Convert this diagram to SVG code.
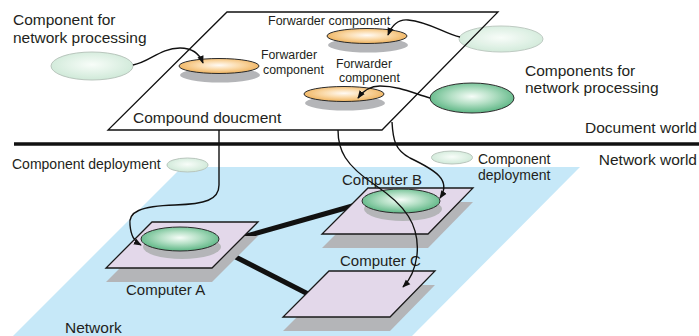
<svg xmlns="http://www.w3.org/2000/svg" width="699" height="336" viewBox="0 0 699 336">
  <style>
    text { font-family: "Liberation Sans", Arial, sans-serif; fill: #231f20; }
    .lbl { font-size: 15.5px; }
    .sm { font-size: 12.3px; }
    .mid { font-size: 14px; }
    .pc { fill: #e3d8ea; stroke: #1a1a1a; stroke-width: 1.3; stroke-linejoin: miter; }
    .shadow { fill: #b4b5b8; }
    .link { stroke: #111; stroke-width: 5; fill: none; }
    .conn { stroke: #111; stroke-width: 1.4; fill: none; marker-end: url(#arrow); }
    .orange { fill: url(#gOrange); stroke: #2a2a2a; stroke-width: 1; }
    .green { fill: url(#gGreen); stroke: #2a2a2a; stroke-width: 1; }
    .pale { fill: url(#gPale); stroke: #b9c6bd; stroke-width: 1; }
  </style>
  <defs>
    <radialGradient id="gOrange" cx="0.5" cy="0.45" r="0.55">
      <stop offset="0" stop-color="#fffaf4"/>
      <stop offset="0.45" stop-color="#fbdcae"/>
      <stop offset="1" stop-color="#efb25c"/>
    </radialGradient>
    <radialGradient id="gGreen" cx="0.5" cy="0.45" r="0.55">
      <stop offset="0" stop-color="#f6fdf8"/>
      <stop offset="0.45" stop-color="#b5e0c6"/>
      <stop offset="1" stop-color="#5cb684"/>
    </radialGradient>
    <radialGradient id="gPale" cx="0.5" cy="0.45" r="0.55">
      <stop offset="0" stop-color="#f8fdf9"/>
      <stop offset="1" stop-color="#cfe9d8"/>
    </radialGradient>
    <marker id="arrow" viewBox="0 0 10 10" refX="9" refY="5" markerWidth="8" markerHeight="8" markerUnits="userSpaceOnUse" orient="auto">
      <path d="M0,1 L10,5 L0,9 Z" fill="#111"/>
    </marker>
  </defs>

  <!-- network plane -->
  <polygon points="182,167 580,167 412,336 13,336" fill="#c6e8f8"/>

  <!-- world divider -->
  <line x1="14" y1="144" x2="699" y2="144" stroke="#111" stroke-width="3.5"/>

  <!-- network links -->
  <g id="links">
    <line class="link" x1="236" y1="239" x2="356" y2="205"/>
    <line class="link" x1="222" y1="250" x2="312" y2="296"/>
  </g>

  <g id="computer-a">
    <polygon class="shadow" points="152,236 258,236 212,282 106,282"/>
    <polygon class="pc" points="152,222 258,222 212,268 106,268"/>
    <ellipse class="shadow" cx="182" cy="247" rx="39" ry="12"/>
    <ellipse class="green" cx="180" cy="239" rx="39" ry="12"/>
    <text class="lbl" x="126" y="295" style="font-size:15px">Computer A</text>
  </g>

  <g id="computer-b">
    <polygon class="shadow" points="368,202 473,202 428,248 322,248"/>
    <polygon class="pc" points="368,188 473,188 428,234 322,234"/>
    <ellipse class="shadow" cx="403" cy="209" rx="39" ry="12"/>
    <ellipse class="green" cx="401" cy="201" rx="39" ry="12"/>
    <text class="lbl" x="342" y="185" style="font-size:15px">Computer B</text>
  </g>

  <g id="computer-c">
    <polygon class="shadow" points="329,285 435,285 390,331 283,331"/>
    <polygon class="pc" points="329,271 435,271 390,317 283,317"/>
    <text class="lbl" x="340" y="266" style="font-size:15px">Computer C</text>
  </g>

  <text class="lbl" x="65" y="333">Network</text>

  <!-- compound document sheet -->
  <g id="document">
    <polygon points="227,12 498,12 382,130 108,130" fill="#fff"/>
    <ellipse class="pale" cx="501" cy="39" rx="42" ry="13" opacity="0.92"/>
    <polygon points="227,12 498,12 382,130 108,130" fill="none" stroke="#111" stroke-width="1.3"/>
    <text class="lbl" x="133" y="123">Compound doucment</text>
  </g>

  <g id="forwarder-top">
    <ellipse class="shadow" cx="368" cy="45" rx="40" ry="7.5"/>
    <ellipse class="orange" cx="367" cy="36" rx="40" ry="7.5"/>
    <text class="sm" x="268" y="25" style="font-size:12.5px">Forwarder component</text>
  </g>

  <g id="forwarder-left">
    <ellipse class="shadow" cx="220" cy="75" rx="40" ry="7.5"/>
    <ellipse class="orange" cx="219" cy="66" rx="40" ry="7.5"/>
    <text class="sm" x="261" y="59">Forwarder</text>
    <text class="sm" x="263" y="74">component</text>
  </g>

  <g id="forwarder-low">
    <ellipse class="shadow" cx="345" cy="103" rx="40" ry="7.5"/>
    <ellipse class="orange" cx="344" cy="94" rx="40" ry="7.5"/>
    <text class="sm" x="336" y="68">Forwarder</text>
    <text class="sm" x="339" y="82">component</text>
  </g>

  <g id="net-component-left">
    <ellipse class="pale" cx="92" cy="66" rx="41" ry="14"/>
    <text class="lbl" x="13" y="25">Component for</text>
    <text class="lbl" x="13" y="43">network processing</text>
  </g>

  <g id="net-component-right">
    <ellipse class="green" cx="472" cy="98" rx="42" ry="15"/>
    <text class="lbl" x="525" y="76">Components for</text>
    <text class="lbl" x="525" y="93">network processing</text>
  </g>

  <g id="deploy-left">
    <ellipse class="pale" cx="187.5" cy="165" rx="20.5" ry="7"/>
    <text class="mid" x="12" y="169">Component deployment</text>
  </g>

  <g id="deploy-right">
    <ellipse class="pale" cx="452" cy="157.5" rx="20.5" ry="6.5"/>
    <text class="mid" x="478" y="164">Component</text>
    <text class="mid" x="478" y="180">deployment</text>
  </g>

  <text class="lbl" x="697" y="133" text-anchor="end">Document world</text>
  <text class="lbl" x="697" y="165" text-anchor="end">Network world</text>

  <!-- connectors -->
  <g id="connectors">
    <path class="conn" d="M133,65 C150,62 160,48 180,48 C194,48 200,55 203,63"/>
    <path class="conn" d="M460,37 C445,34 430,22 408,20 C398,19 392,25 388,35"/>
    <path class="conn" d="M430,98 C415,94 400,86 380,86 C370,86 363,91 358,98"/>
    <path class="conn" d="M219,130 L219,185 C219,200 205,204 175,205 C140,206 128,212 130,225 C131,236 134,241 141,245"/>
    <path class="conn" d="M338,130 C338,150 345,165 375,185 C405,205 420,225 417,255 C415,270 410,280 403,287"/>
    <path class="conn" d="M392,122 C393,140 395,150 410,158 C435,170 452,180 440,198"/>
  </g>
</svg>
